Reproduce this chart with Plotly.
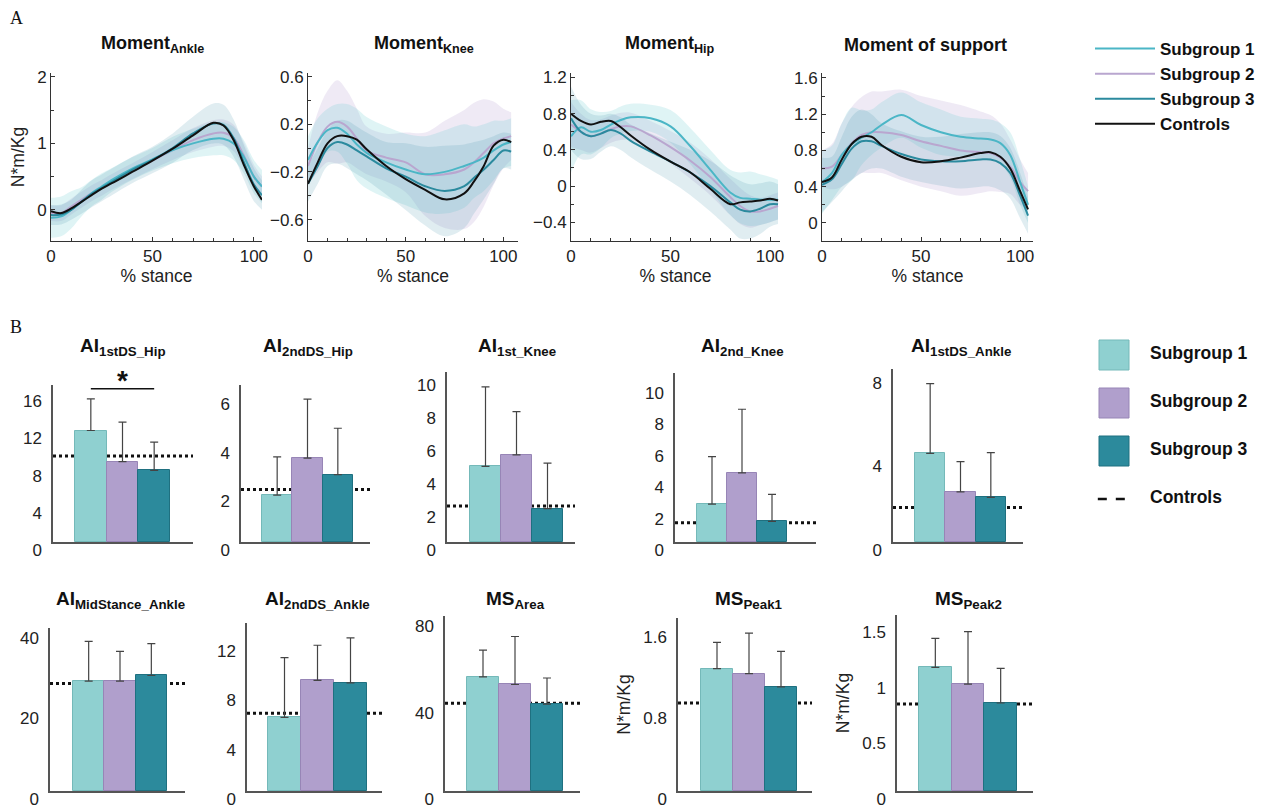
import plotly.graph_objects as go

W, H = 1266, 812
def px(x): return x / W
def py(y): return 1 - y / H

FONT = "Arial, Liberation Sans, sans-serif"

# ---------------- Panel A data (% stance vs moment, N*m/Kg) ----------------
STANCE = [0, 5, 10, 15, 20, 25, 30, 40, 50, 60, 70, 80, 85, 90, 95, 100, 104]

ANKLE_S1 = [-0.12, -0.10, 0.00, 0.12, 0.25, 0.35, 0.45, 0.62, 0.76, 0.90, 1.00, 1.07, 1.07, 1.00, 0.80, 0.50, 0.35]
ANKLE_S2 = [-0.05, -0.05, 0.05, 0.15, 0.25, 0.33, 0.42, 0.58, 0.74, 0.90, 1.05, 1.15, 1.16, 1.08, 0.82, 0.50, 0.35]
ANKLE_S3 = [-0.08, -0.07, 0.00, 0.12, 0.24, 0.33, 0.42, 0.60, 0.75, 0.93, 1.15, 1.30, 1.28, 1.08, 0.72, 0.38, 0.22]
ANKLE_CT = [-0.02, -0.05, 0.02, 0.12, 0.22, 0.32, 0.40, 0.57, 0.74, 0.92, 1.12, 1.31, 1.27, 1.05, 0.68, 0.35, 0.15]
ANKLE_SD1 = [0.30, 0.30, 0.28, 0.22, 0.20, 0.20, 0.18, 0.17, 0.17, 0.20, 0.22, 0.25, 0.25, 0.25, 0.25, 0.25, 0.25]
ANKLE_SD2 = [0.12, 0.12, 0.12, 0.12, 0.12, 0.12, 0.12, 0.12, 0.13, 0.15, 0.18, 0.20, 0.20, 0.20, 0.20, 0.18, 0.15]
ANKLE_SD3 = [0.15, 0.15, 0.15, 0.18, 0.20, 0.20, 0.20, 0.20, 0.20, 0.22, 0.25, 0.30, 0.30, 0.28, 0.26, 0.25, 0.22]

KNEE_S1 = [-0.10, 0.05, 0.15, 0.17, 0.12, 0.03, -0.04, -0.12, -0.18, -0.22, -0.20, -0.15, -0.12, -0.08, -0.02, 0.03, 0.05]
KNEE_S2 = [-0.15, 0.05, 0.18, 0.22, 0.18, 0.08, -0.02, -0.08, -0.12, -0.22, -0.22, -0.18, -0.12, -0.04, 0.04, 0.08, 0.10]
KNEE_S3 = [-0.30, -0.15, 0.00, 0.05, 0.03, -0.02, -0.07, -0.17, -0.24, -0.32, -0.36, -0.32, -0.25, -0.18, -0.10, -0.02, -0.03]
KNEE_CT = [-0.30, -0.12, 0.04, 0.10, 0.10, 0.07, -0.01, -0.15, -0.26, -0.35, -0.43, -0.38, -0.28, -0.15, 0.02, 0.07, 0.05]
KNEE_SD1 = [0.20, 0.20, 0.18, 0.20, 0.25, 0.30, 0.30, 0.30, 0.30, 0.32, 0.35, 0.35, 0.30, 0.28, 0.25, 0.20, 0.20]
KNEE_SD2 = [0.15, 0.25, 0.30, 0.35, 0.30, 0.25, 0.20, 0.20, 0.25, 0.35, 0.45, 0.50, 0.50, 0.45, 0.35, 0.25, 0.20]
KNEE_SD3 = [0.15, 0.15, 0.15, 0.18, 0.20, 0.20, 0.20, 0.22, 0.28, 0.33, 0.38, 0.35, 0.30, 0.25, 0.20, 0.15, 0.15]

HIP_S1 = [0.55, 0.65, 0.60, 0.62, 0.68, 0.73, 0.76, 0.75, 0.66, 0.44, 0.18, -0.07, -0.13, -0.14, -0.15, -0.15, -0.15]
HIP_S2 = [0.68, 0.60, 0.55, 0.58, 0.63, 0.66, 0.66, 0.56, 0.43, 0.28, 0.10, -0.12, -0.22, -0.28, -0.28, -0.25, -0.22]
HIP_S3 = [0.75, 0.60, 0.55, 0.58, 0.62, 0.58, 0.50, 0.38, 0.27, 0.15, 0.00, -0.18, -0.26, -0.28, -0.25, -0.20, -0.20]
HIP_CT = [0.80, 0.72, 0.68, 0.71, 0.72, 0.65, 0.56, 0.40, 0.27, 0.15, -0.03, -0.20, -0.18, -0.17, -0.16, -0.14, -0.16]
HIP_SD1 = [0.40, 0.30, 0.25, 0.20, 0.15, 0.15, 0.15, 0.15, 0.18, 0.20, 0.22, 0.25, 0.28, 0.30, 0.28, 0.25, 0.22]
HIP_SD2 = [0.25, 0.20, 0.18, 0.16, 0.15, 0.15, 0.15, 0.16, 0.18, 0.20, 0.20, 0.20, 0.20, 0.18, 0.15, 0.15, 0.15]
HIP_SD3 = [0.35, 0.30, 0.25, 0.20, 0.18, 0.18, 0.18, 0.20, 0.22, 0.25, 0.28, 0.30, 0.32, 0.30, 0.28, 0.25, 0.22]

SUP_S1 = [0.45, 0.55, 0.75, 0.87, 0.94, 1.00, 1.08, 1.19, 1.08, 1.00, 0.95, 0.93, 0.92, 0.88, 0.75, 0.45, 0.20]
SUP_S2 = [0.60, 0.62, 0.75, 0.88, 0.97, 1.00, 1.00, 0.97, 0.90, 0.85, 0.80, 0.78, 0.77, 0.72, 0.62, 0.45, 0.35]
SUP_S3 = [0.42, 0.48, 0.65, 0.82, 0.90, 0.90, 0.85, 0.76, 0.70, 0.68, 0.68, 0.70, 0.70, 0.66, 0.55, 0.30, 0.08]
SUP_CT = [0.45, 0.50, 0.70, 0.87, 0.95, 0.95, 0.86, 0.73, 0.67, 0.68, 0.72, 0.77, 0.78, 0.73, 0.60, 0.35, 0.15]
SUP_SD1 = [0.35, 0.30, 0.35, 0.40, 0.30, 0.25, 0.25, 0.25, 0.25, 0.25, 0.22, 0.22, 0.22, 0.22, 0.25, 0.25, 0.20]
SUP_SD2 = [0.20, 0.25, 0.35, 0.40, 0.42, 0.45, 0.45, 0.50, 0.50, 0.50, 0.50, 0.45, 0.42, 0.38, 0.30, 0.25, 0.20]
SUP_SD3 = [0.30, 0.25, 0.30, 0.35, 0.35, 0.30, 0.25, 0.25, 0.25, 0.27, 0.30, 0.30, 0.30, 0.30, 0.28, 0.25, 0.20]

GROUPS = ["Subgroup 1", "Subgroup 2", "Subgroup 3"]
CONTROLS = "Controls"

# ---------------- Panel B data ----------------
BAR_TITLES = ["AI<sub>1stDS_Hip</sub>", "AI<sub>2ndDS_Hip</sub>", "AI<sub>1st_Knee</sub>",
              "AI<sub>2nd_Knee</sub>", "AI<sub>1stDS_Ankle</sub>", "AI<sub>MidStance_Ankle</sub>",
              "AI<sub>2ndDS_Ankle</sub>", "MS<sub>Area</sub>", "MS<sub>Peak1</sub>", "MS<sub>Peak2</sub>"]
BAR_S1 = [12.0, 1.93, 4.58, 2.41, 4.24, 27.3, 5.96, 52.8, 1.21, 1.11]
BAR_S2 = [8.65, 3.45, 5.28, 4.41, 2.40, 27.3, 8.96, 49.3, 1.16, 0.96]
BAR_S3 = [7.70, 2.77, 2.02, 1.32, 2.13, 28.7, 8.75, 40.2, 1.03, 0.79]
ERR_S1 = [3.40, 1.57, 4.82, 3.03, 3.33, 9.9, 4.84, 12.4, 0.26, 0.26]
ERR_S2 = [4.25, 2.43, 2.62, 4.05, 1.44, 7.4, 2.84, 22.2, 0.40, 0.47]
ERR_S3 = [3.05, 1.91, 2.76, 1.71, 2.14, 7.9, 3.65, 12.1, 0.35, 0.31]
BAR_CTRL = [9.26, 2.16, 2.18, 1.22, 1.65, 26.7, 6.3, 40.6, 0.87, 0.78]
BAR_TICKS = [[0, 4, 8, 12, 16], [0, 2, 4, 6], [0, 2, 4, 6, 8, 10], [0, 2, 4, 6, 8, 10], [0, 4, 8],
             [0, 20, 40], [0, 4, 8, 12], [0, 40, 80], [0, 0.8, 1.6], [0, 0.5, 1, 1.5]]
SIG_Y = 16.5  # significance bracket, AI 1stDS_Hip, Subgroup 1 vs Subgroup 3
UNIT = "N*m/Kg"

# ---------------- styles ----------------
LINE_COL = {"Subgroup 1": "#4bb6c6", "Subgroup 2": "#b9a6cf", "Subgroup 3": "#2b8a9e", CONTROLS: "#111111"}
BAND_COL = {"Subgroup 1": "rgba(110,205,210,0.22)", "Subgroup 2": "rgba(195,175,215,0.26)",
            "Subgroup 3": "rgba(60,140,165,0.16)"}
BAR_COL = ["#8fd0d0", "#b09fcc", "#2c8a9c"]
BAR_EDGE = ["#74b9b9", "#9785b6", "#1f7080"]

fig = go.Figure()

# ---------------- Panel A ----------------
A_PLOTS = [
    ("Moment<sub>Ankle</sub>", [ANKLE_S1, ANKLE_S2, ANKLE_S3, ANKLE_CT], [ANKLE_SD1, ANKLE_SD2, ANKLE_SD3]),
    ("Moment<sub>Knee</sub>", [KNEE_S1, KNEE_S2, KNEE_S3, KNEE_CT], [KNEE_SD1, KNEE_SD2, KNEE_SD3]),
    ("Moment<sub>Hip</sub>", [HIP_S1, HIP_S2, HIP_S3, HIP_CT], [HIP_SD1, HIP_SD2, HIP_SD3]),
    ("Moment of support", [SUP_S1, SUP_S2, SUP_S3, SUP_CT], [SUP_SD1, SUP_SD2, SUP_SD3]),
]
A_GEOM = [(51, 262), (308, 518), (571, 780), (822, 1033)]
A_TOP, A_BOT = 73, 241
A_YRANGE = [[-0.47, 2.06], [-0.78, 0.63], [-0.607, 1.25], [-0.2, 1.654]]
A_XMAX = [104, 107.5, 105, 106.5]
A_YTICKS = [dict(tickvals=[0, 1, 2], minor_dtick=0.5),
            dict(tickvals=[-0.6, -0.2, 0.2, 0.6], minor_dtick=0.2),
            dict(tickvals=[-0.4, 0, 0.4, 0.8, 1.2], minor_dtick=0.2),
            dict(tickvals=[0, 0.4, 0.8, 1.2, 1.6], minor_dtick=0.2)]
A_TITLE_X = [152, 424, 670, 925]

axis_line = dict(showline=True, linecolor="#333", linewidth=1, showgrid=False, zeroline=False, automargin=False)

for i, (title, means, sds) in enumerate(A_PLOTS):
    n = i + 1
    xa, ya = f"x{n}", f"y{n}"
    # bands
    for g in [1, 0, 2]:
        lo = [m - s for m, s in zip(means[g], sds[g])]
        hi = [m + s for m, s in zip(means[g], sds[g])]
        fig.add_trace(go.Scatter(x=STANCE, y=lo, mode="lines", line=dict(width=0, shape="spline"),
                                 xaxis=xa, yaxis=ya, showlegend=False, hoverinfo="skip"))
        fig.add_trace(go.Scatter(x=STANCE, y=hi, mode="lines", line=dict(width=0, shape="spline"),
                                 fill="tonexty", fillcolor=BAND_COL[GROUPS[g]],
                                 xaxis=xa, yaxis=ya, showlegend=False, hoverinfo="skip"))
    # lines
    names = GROUPS + [CONTROLS]
    for g in [1, 0, 2, 3]:
        fig.add_trace(go.Scatter(x=STANCE, y=means[g], mode="lines", name=f"<b>{names[g]}</b>",
                                 line=dict(color=LINE_COL[names[g]], width=2, shape="spline"),
                                 xaxis=xa, yaxis=ya, showlegend=(i == 0), legend="legend",
                                 legendrank=g + 1))
    l, r = A_GEOM[i]
    yt = A_YTICKS[i]
    fig.update_layout(**{
        f"xaxis{n}": dict(domain=[px(l), px(r)], range=[0, A_XMAX[i]], anchor=ya,
                          tickvals=[0, 50, 100], ticks="inside", ticklen=4, tickcolor="#333",
                          minor=dict(ticks="inside", ticklen=3, tickmode="linear", tick0=0, dtick=10, tickcolor="#333"),
                          tickfont=dict(size=17, color="#222", family=FONT),
                          title=dict(text="% stance", font=dict(size=17.5, color="#222", family=FONT), standoff=3),
                          **axis_line),
        f"yaxis{n}": dict(domain=[py(A_BOT), py(A_TOP)], range=A_YRANGE[i], anchor=xa,
                          tickvals=yt["tickvals"], ticks="inside", ticklen=4, tickcolor="#333",
                          minor=dict(ticks="inside", ticklen=3, tickmode="linear", tick0=0,
                                     dtick=yt["minor_dtick"], tickcolor="#333"),
                          tickfont=dict(size=17, color="#222", family=FONT),
                          title=dict(text=UNIT if i == 0 else "", font=dict(size=17.5, color="#222", family=FONT), standoff=8),
                          **axis_line),
    })
    fig.add_annotation(text=f"<b>{title}</b>", x=px(A_TITLE_X[i]), y=py(45), xref="paper", yref="paper",
                       xanchor="center", yanchor="middle",
                       showarrow=False, font=dict(size=18, color="#111", family=FONT))

# ---------------- Panel B ----------------
# (axis left, axis right, axis top, axis bottom, bars left, bars right, y max) in pixels
B_GEOM = [
    (53, 193, 385, 542, 75, 170, 16.9),
    (241, 370, 385, 542, 262, 353, 6.46),
    (447, 575, 372, 542, 470, 563, 10.3),
    (675, 816, 373, 542, 697, 787, 10.77),
    (893, 1023, 369, 542, 915, 1006, 8.27),
    (50, 185, 628, 791, 73, 167, 40.5),
    (247, 382, 623, 791, 268, 367, 13.6),
    (445, 580, 616, 791, 467, 563, 81),
    (678, 812, 618, 791, 701, 797, 1.71),
    (897, 1033, 615, 791, 919, 1017, 1.58),
]
B_TITLE_Y = [347, 347, 347, 347, 347, 600, 600, 600, 600, 600]

for k in range(10):
    n = 5 + k
    xa, ya = f"x{n}", f"y{n}"
    l, r, t, b, bl, br, ymax = B_GEOM[k]
    u = (br - bl) / 3.0
    xr = [-0.5 - (bl - l) / u, 2.5 + (r - br) / u]
    fig.add_trace(go.Bar(
        x=GROUPS, y=[BAR_S1[k], BAR_S2[k], BAR_S3[k]], width=1,
        marker=dict(color=BAR_COL, line=dict(color=BAR_EDGE, width=1)),
        error_y=dict(type="data", symmetric=False, array=[ERR_S1[k], ERR_S2[k], ERR_S3[k]],
                     arrayminus=[0, 0, 0], color="#444", thickness=1.2, width=4),
        xaxis=xa, yaxis=ya, showlegend=False))
    fig.add_shape(type="line", xref=f"{xa} domain", yref=ya, x0=0, x1=1, y0=BAR_CTRL[k], y1=BAR_CTRL[k],
                  line=dict(color="#111", width=3, dash="dot"), layer="below")
    ytitle = UNIT if k in (8, 9) else ""
    fig.update_layout(**{
        f"xaxis{n}": dict(domain=[px(l), px(r)], range=xr, anchor=ya, type="category",
                          categoryarray=GROUPS, showticklabels=False, ticks="", automargin=False,
                          showline=True, linecolor="#555", linewidth=1.5, showgrid=False, zeroline=False),
        f"yaxis{n}": dict(domain=[py(b), py(t)], range=[0, ymax], anchor=xa,
                          tickvals=BAR_TICKS[k], ticks="", ticklabelshift=8, ticklabelstandoff=6,
                          tickfont=dict(size=17, color="#222", family=FONT), automargin=False,
                          title=dict(text=ytitle, font=dict(size=17.5, color="#222", family=FONT), standoff=8),
                          showline=True, linecolor="#555", linewidth=1.5, showgrid=False, zeroline=False),
    })
    fig.add_annotation(text=f"<b>{BAR_TITLES[k]}</b>", x=1, xref=xa, y=py(B_TITLE_Y[k]), yref="paper",
                       xanchor="center", yanchor="middle",
                       showarrow=False, font=dict(size=19, color="#111", family=FONT))

# significance bracket on first bar chart
fig.add_trace(go.Scatter(x=[GROUPS[0], GROUPS[2]], y=[SIG_Y, SIG_Y], mode="lines",
                         line=dict(color="#111", width=1.5), xaxis="x5", yaxis="y5",
                         showlegend=False, cliponaxis=False))
fig.add_annotation(text="<b>*</b>", x=1, xref="x5", y=SIG_Y, yref="y5", yanchor="bottom", yshift=-9,
                   showarrow=False, font=dict(size=28, color="#111", family=FONT))

# ---------------- Panel B legend (swatches) ----------------
LEG_ROWS = GROUPS + [CONTROLS]
fig.add_trace(go.Scatter(x=[0, 0, 0], y=GROUPS, mode="markers",
                         marker=dict(symbol="square", size=30, color=BAR_COL, line=dict(color=BAR_EDGE, width=1)),
                         xaxis="x15", yaxis="y15", showlegend=False, hoverinfo="skip"))
fig.add_trace(go.Scatter(x=[-0.45, 0.45], y=[CONTROLS, CONTROLS], mode="lines",
                         line=dict(color="#111", width=2.5, dash="dash"),
                         xaxis="x15", yaxis="y15", showlegend=False, hoverinfo="skip"))
fig.add_trace(go.Scatter(x=[1] * 4, y=LEG_ROWS, mode="text", text=[f"<b>{s}</b>" for s in LEG_ROWS],
                         textposition="middle right", textfont=dict(size=17.5, color="#111", family=FONT),
                         xaxis="x15", yaxis="y15", showlegend=False, hoverinfo="skip"))
fig.update_layout(
    xaxis15=dict(domain=[px(1090), px(1266)], range=[-0.667, 4.222], visible=False, anchor="y15"),
    yaxis15=dict(domain=[py(523), py(331)], type="category", categoryarray=LEG_ROWS,
                 range=[3.5, -0.5], autorange=False, visible=False, anchor="x15"),
)

# panel letters
fig.add_annotation(text="A", x=px(8), y=py(18), xref="paper", yref="paper", xanchor="left", yanchor="middle",
                   showarrow=False, font=dict(size=18, color="#111", family="Liberation Serif, serif"))
fig.add_annotation(text="B", x=px(8), y=py(327), xref="paper", yref="paper", xanchor="left", yanchor="middle",
                   showarrow=False, font=dict(size=18, color="#111", family="Liberation Serif, serif"))

fig.update_layout(
    width=W, height=H, margin=dict(l=0, r=0, t=0, b=0, autoexpand=False), autosize=False,
    paper_bgcolor="white", plot_bgcolor="rgba(0,0,0,0)",
    bargap=0, barmode="group",
    font=dict(family=FONT, color="#111"),
    legend=dict(x=px(1090), y=py(31), xanchor="left", yanchor="top", bgcolor="rgba(0,0,0,0)",
                traceorder="normal",
                font=dict(size=17, color="#111", family=FONT), tracegroupgap=0, itemwidth=60),
)

fig.write_html("out.html", config={"displayModeBar": False},
               post_script="document.body.style.margin='0';")
